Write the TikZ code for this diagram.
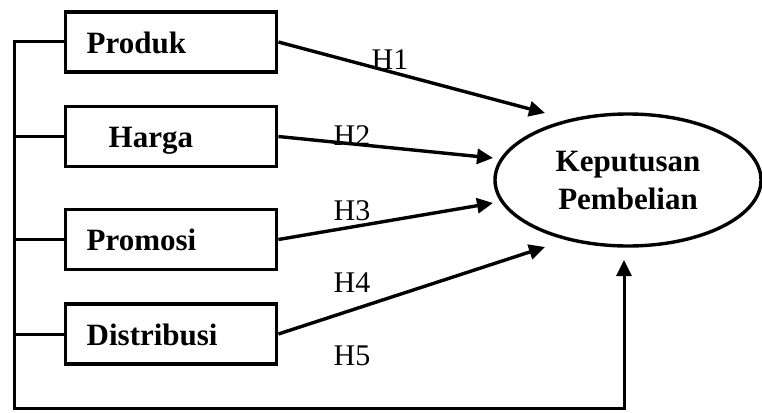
\documentclass[tikz,border=0pt]{standalone}
\usepackage{fontspec}
\setmainfont{Liberation Serif}
\usetikzlibrary{shapes.geometric,arrows.meta}

\tikzset{
  varbox/.style={draw, line width=3.4pt, text width=169pt, align=left,
    inner xsep=21pt, inner ysep=0pt, text height=28pt, text depth=6pt,
    minimum height=60pt, anchor=west,
    font=\fontsize{31}{36}\selectfont\bfseries},
  target/.style={draw, ellipse, line width=3.4pt, minimum width=266pt,
    minimum height=132pt, inner sep=0pt, align=center,
    font=\fontsize{31}{40}\selectfont\bfseries},
  hyp/.style={anchor=base, font=\fontsize{30}{36}\selectfont},
  link/.style={line width=3.4pt, -{Triangle[length=16pt,width=15pt]}},
  trunk/.style={line width=3pt, line join=miter},
}

\begin{document}
\begin{tikzpicture}[x=1pt,y=-1pt]
  \useasboundingbox (0,0) rectangle (762,412);

  % independent variables
  \node[varbox] (prod) at (64,42)    {Produk};
  \node[varbox] (harga) at (64,136.5) {\hspace*{22pt}Harga};
  \node[varbox] (promo) at (64,239.5) {Promosi};
  \node[varbox] (dist) at (64,334)    {Distribusi};

  % dependent variable
  \node[target] (kp) at (628,180) {\raisebox{-2pt}{Keputusan}\\Pembelian};

  % arrow tips near the ellipse
  \coordinate (t1) at (545,113);
  \coordinate (t2) at (493,158);
  \coordinate (t3) at (493,203);
  \coordinate (t4) at (545,247);
  \coordinate (t5) at (624,260);

  % left trunk joining all variables
  \coordinate (top) at (14,42);
  \coordinate (bot) at (14,408);
  \draw[trunk, -{Triangle[length=16pt,width=15pt]}] (prod.west) -- (top) -- (bot) -| (t5);
  \draw[trunk] (harga.west) -- (harga.west -| top);
  \draw[trunk] (promo.west) -- (promo.west -| top);
  \draw[trunk] (dist.west) -- (dist.west -| top);

  % hypothesis paths
  \draw[link] (prod.east) -- (t1);
  \draw[link] (harga.east) -- (t2);
  \draw[link] (promo.east) -- (t3);
  \draw[link] (dist.east) -- (t4);

  % hypothesis labels
  \node[hyp] (h1) at (390,70)  {H1};
  \node[hyp] (h2) at (352,145) {H2};
  \node[hyp] (h3) at (352,220) {H3};
  \node[hyp] (h4) at (352,292) {H4};
  \node[hyp] (h5) at (352,365) {H5};
\end{tikzpicture}
\end{document}
